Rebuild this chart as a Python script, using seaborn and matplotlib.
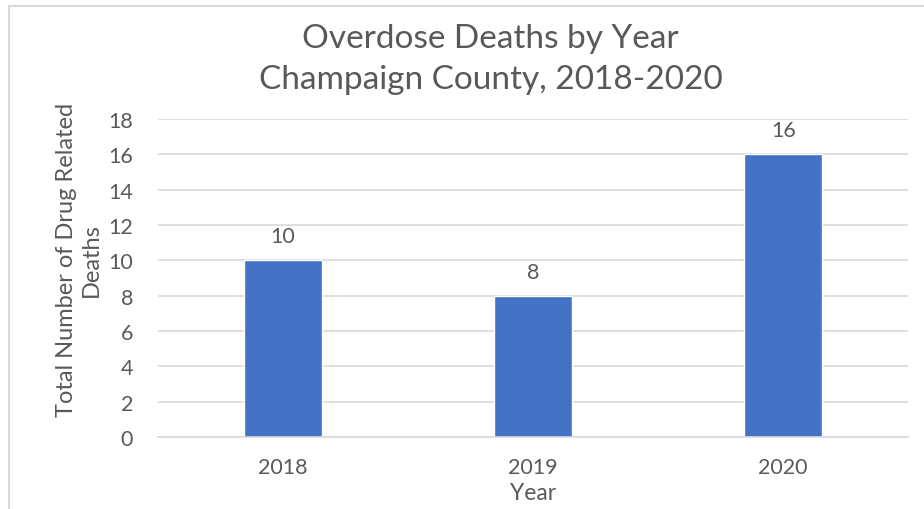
import matplotlib
matplotlib.use('Agg')
import matplotlib.pyplot as plt
import seaborn as sns
import pandas as pd
from matplotlib.patches import Rectangle

years = ['2018', '2019', '2020']
deaths = [10, 8, 16]

df = pd.DataFrame({'year': years, 'deaths': deaths})

sns.set_style('white')
plt.rcParams['font.family'] = ['Lato', 'DejaVu Sans']
grey = '#595959'

fig = plt.figure(figsize=(9.24, 5.10), dpi=100)
ax = fig.add_axes([0.171, 0.141, 0.812, 0.624])

sns.barplot(data=df, x='year', y='deaths', color='#4472c4', saturation=1,
            width=0.31, ax=ax)

ax.set_ylim(0, 18)
ax.set_yticks(range(0, 19, 2))
ax.yaxis.grid(True, color='#d9d9d9', linewidth=1.2)
ax.set_axisbelow(True)
for s in ['top', 'right', 'left']:
    ax.spines[s].set_visible(False)
ax.spines['bottom'].set_color('#d9d9d9')
ax.spines['bottom'].set_linewidth(1.2)
ax.tick_params(axis='y', length=0, labelsize=15.5, colors=grey, pad=18)
ax.tick_params(axis='x', length=0, labelsize=15.5, colors=grey, pad=14)

for c in ax.containers:
    ax.bar_label(c, fontsize=15.5, color=grey, padding=10)

ax.set_xlabel('Year', fontsize=16.5, color=grey)
ax.xaxis.set_label_coords(0.5, -0.14)
ax.set_ylabel('Total Number of Drug Related\nDeaths', fontsize=17, color=grey,
              linespacing=1.2)
ax.yaxis.set_label_coords(-0.075, 0.56)
fig.suptitle('Overdose Deaths by Year\nChampaign County, 2018-2020',
             fontsize=24, color=grey, y=0.952, x=0.531, va='top',
             linespacing=1.45)

# chart border like the spreadsheet frame
fig.patches.append(Rectangle((9 / 924, -0.1), 1.2, 1 - 7 / 510 + 0.1,
                             transform=fig.transFigure, fill=False,
                             edgecolor='#d9d9d9', linewidth=1.5))

fig.savefig('out.png', dpi=100, facecolor='white')
